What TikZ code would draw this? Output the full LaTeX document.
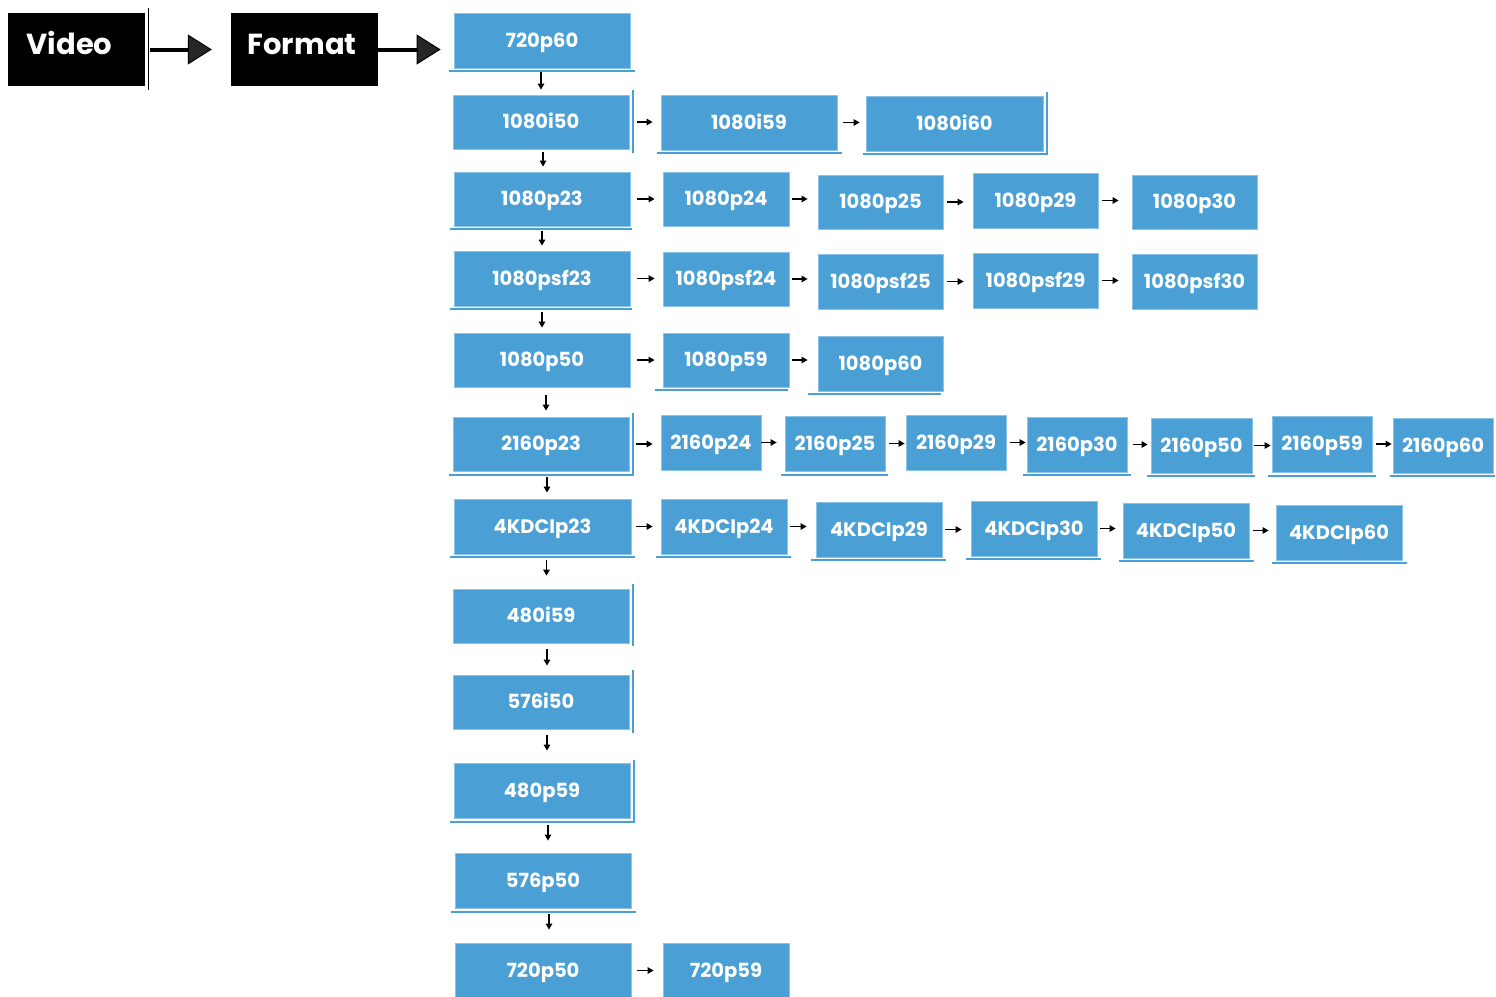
\documentclass[tikz,border=0pt]{standalone}
\usepackage{fontspec}
\setmainfont{Poppins}
\usetikzlibrary{arrows.meta}
\definecolor{boxblue}{RGB}{74,159,213}
\definecolor{edgeblue}{RGB}{140,195,232}
\definecolor{lineblue}{RGB}{74,159,213}
\definecolor{headgray}{RGB}{38,38,38}
\tikzset{
  fbox/.style={fill=boxblue, draw=edgeblue, line width=0.8pt, inner sep=0pt,
    text=white, font=\fontsize{19.5}{19.5}\selectfont\bfseries,
    text height=13.6pt, text depth=0pt},
  kbox/.style={fill=black, inner sep=0pt, text=white,
    font=\fontsize{29}{29}\selectfont\bfseries,
    text height=20.3pt, text depth=11pt},
  arr/.style={line width=1.3pt, -{Triangle[length=6pt,width=6.5pt]}},
  bigarr/.style={line width=4pt, -{Triangle[length=24pt,width=30pt,line width=1pt,fill=headgray,color=black]}},
  uline/.style={draw=lineblue, line width=1.3pt},
  vline/.style={draw=black, line width=1pt}
}
\newcommand{\bx}[6]{\node[fbox, minimum width={#4-#2}, minimum height={#5-#3}] (#1) at ({(#2+#4)/2},{(#3+#5)/2}) {#6};}
\newcommand{\kx}[6]{\node[kbox, minimum width={#4-#2}, minimum height={#5-#3}] (#1) at ({(#2+#4)/2},{(#3+#5)/2}) {#6};}
% \harr{from}{to}{gap at start}{gap at end}
\newcommand{\harr}[4]{\draw[arr, shorten <=#3pt, shorten >=#4pt] (#1.east) -- (#1.east -| #2.west);}
% \varr{from}{to}{x offset}{gap at start}{gap at end}
\newcommand{\varr}[5]{\draw[arr, shorten <=#4pt, shorten >=#5pt] ([xshift=#3pt]#1.south) -- ([xshift=#3pt]#1.south |- #2.north);}
\begin{document}
\begin{tikzpicture}[x=1pt,y=-1pt]
\useasboundingbox (0,0) rectangle (1496,996);
% black boxes
\kx{video}{8}{13}{145}{86}{Video\rule{14pt}{0pt}}
\kx{format}{231}{13}{378}{86}{Format\rule{5pt}{0pt}}
\draw[vline] (148,8) -- (148,90);
% column
\bx{a1}{454}{13}{630}{68}{720p60}
\bx{b1}{453}{95}{629}{149}{1080i50}
\bx{b2}{661}{95}{837}{150}{1080i59}
\bx{b3}{866}{96}{1043}{151}{1080i60}
\bx{c1}{454}{172}{630}{226}{1080p23}
\bx{c2}{663}{172}{789}{226}{1080p24}
\bx{c3}{818}{175}{943}{229}{1080p25}
\bx{c4}{973}{173}{1098}{228}{1080p29}
\bx{c5}{1132}{175}{1257}{229}{1080p30}
\bx{d1}{454}{251}{630}{306}{1080psf23}
\bx{d2}{663}{252}{789}{306}{1080psf24}
\bx{d3}{818}{254}{943}{309}{1080psf25}
\bx{d4}{973}{253}{1098}{308}{1080psf29}
\bx{d5}{1132}{254}{1257}{309}{1080psf30}
\bx{e1}{454}{333}{630}{387}{1080p50}
\bx{e2}{663}{333}{789}{387}{1080p59}
\bx{e3}{818}{336}{943}{391}{1080p60}
\bx{f1}{453}{417}{629}{471}{2160p23}
\bx{f2}{661}{415}{761}{470}{2160p24}
\bx{f3}{785}{416}{885}{471}{2160p25}
\bx{f4}{906}{415}{1006}{470}{2160p29}
\bx{f5}{1027}{417}{1127}{472}{2160p30}
\bx{f6}{1151}{418}{1252}{473}{2160p50}
\bx{f7}{1272}{416}{1372}{472}{2160p59}
\bx{f8}{1393}{418}{1493}{473}{2160p60}
\bx{g1}{454}{499}{631}{554}{4KDCIp23}
\bx{g2}{661}{499}{787}{554}{4KDCIp24}
\bx{g3}{816}{502}{942}{557}{4KDCIp29}
\bx{g4}{971}{501}{1097}{556}{4KDCIp30}
\bx{g5}{1123}{503}{1249}{558}{4KDCIp50}
\bx{g6}{1276}{505}{1402}{560}{4KDCIp60}
\bx{h1}{453}{589}{629}{643}{480i59}
\bx{i1}{453}{675}{629}{729}{576i50}
\bx{j1}{454}{763}{630}{818}{480p59}
\bx{k1}{455}{853}{631}{908}{576p50}
\bx{l1}{455}{943}{631}{998}{720p50}
\bx{l2}{663}{943}{789}{998}{720p59}
% decorative edge lines
\draw[uline] (449,71) -- (635,71);
\draw[uline] (633,90) -- (633,153);
\draw[uline] (657,153) -- (842,153);
\draw[uline] (863,154) -- (1047,154) -- (1047,92);
\draw[uline] (450,229) -- (632,229);
\draw[uline] (450,309) -- (632,309);
\draw[uline] (655,390) -- (788,390);
\draw[uline] (808,394) -- (941,394);
\draw[uline] (449,475) -- (633,475) -- (633,413);
\draw[uline] (781,475) -- (888,475);
\draw[uline] (1023,475) -- (1131,475);
\draw[uline] (1147,476) -- (1255,476);
\draw[uline] (1268,476) -- (1376,476);
\draw[uline] (1390,476) -- (1495,476);
\draw[uline] (450,557) -- (635,557);
\draw[uline] (656,557) -- (791,557);
\draw[uline] (811,560) -- (946,560);
\draw[uline] (966,559) -- (1101,559);
\draw[uline] (1119,561) -- (1254,561);
\draw[uline] (1272,563) -- (1407,563);
\draw[uline] (633,584) -- (633,646);
\draw[uline] (633,670) -- (633,733);
\draw[uline] (450,822) -- (634,822) -- (634,760);
\draw[uline] (451,912) -- (636,912);
% big arrows
\draw[bigarr, shorten <=5pt, shorten >=19pt] (video.east) -- (format.west);
\draw[bigarr, shorten >=13pt] (format.east) -- (format.east -| a1.west);
% vertical arrows
\varr{a1}{b1}{-1}{4}{5}
\varr{b1}{c1}{2}{3}{5}
\varr{c1}{d1}{0}{5}{5}
\varr{d1}{e1}{0}{6}{5}
\varr{e1}{f1}{4}{8}{6}
\varr{f1}{g1}{6}{6}{6}
\varr{g1}{h1}{4}{6}{13}
\varr{h1}{i1}{6}{6}{9}
\varr{i1}{j1}{6}{6}{12}
\varr{j1}{k1}{6}{7}{12}
\varr{k1}{l1}{6}{6}{13}
% horizontal arrows
\harr{b1}{b2}{8}{8}\harr{b2}{b3}{6}{6}
\harr{c1}{c2}{7}{8}\harr{c2}{c3}{3}{10}\harr{c3}{c4}{4}{9}\harr{c4}{c5}{4}{13}
\harr{d1}{d2}{7}{8}\harr{d2}{d3}{3}{10}\harr{d3}{d4}{4}{9}\harr{d4}{d5}{4}{13}
\harr{e1}{e2}{7}{8}\harr{e2}{e3}{3}{10}
\harr{f1}{f2}{7}{8}\harr{f2}{f3}{0}{8}\harr{f3}{f4}{4}{1}\harr{f4}{f5}{4}{1}\harr{f5}{f6}{6}{3}\harr{f6}{f7}{2}{1}\harr{f7}{f8}{4}{1}
\harr{g1}{g2}{5}{8}\harr{g2}{g3}{3}{9}\harr{g3}{g4}{3}{9}\harr{g4}{g5}{3}{7}\harr{g5}{g6}{4}{7}
\harr{l1}{l2}{6}{9}
\end{tikzpicture}
\end{document}
